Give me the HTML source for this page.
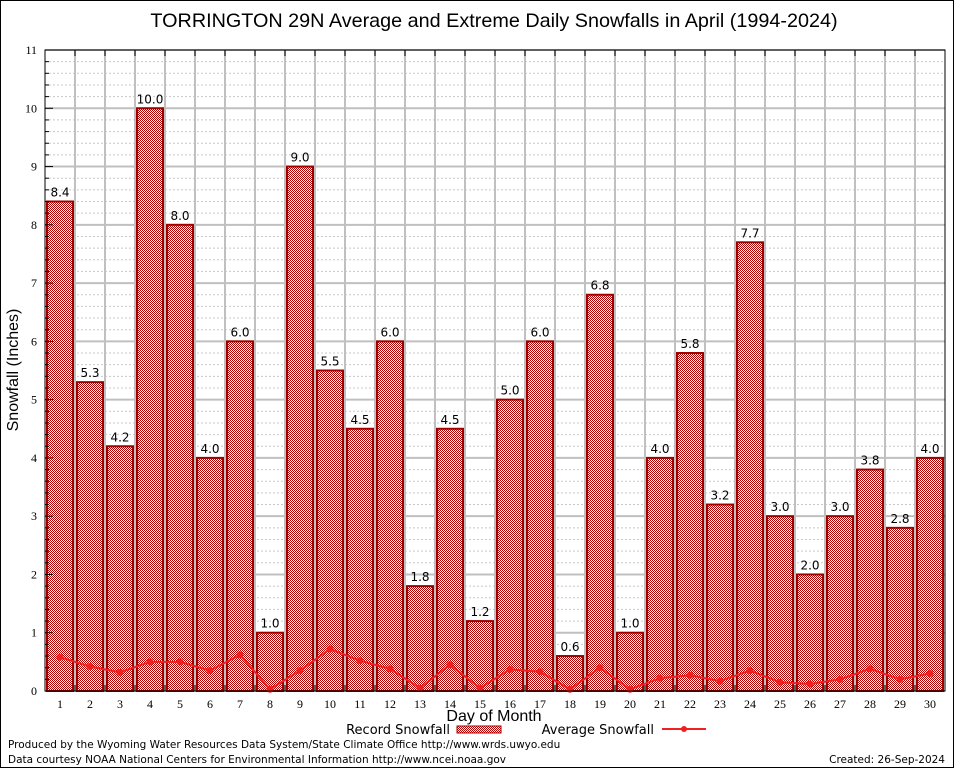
<!DOCTYPE html>
<html><head><meta charset="utf-8"><style>
body{margin:0;background:#fff}
svg{display:block;font-family:"DejaVu Sans","Liberation Sans",sans-serif}
</style></head><body>
<svg id="c" width="954" height="768" xmlns="http://www.w3.org/2000/svg">
<defs>
<pattern id="chk" width="2" height="2" patternUnits="userSpaceOnUse">
<rect width="2" height="2" fill="#fff"/>
<rect width="1" height="1" fill="#b00000"/>
<rect x="1" y="1" width="1" height="1" fill="#b00000"/>
</pattern>
</defs>
<rect x="0.5" y="0.5" width="953" height="767" fill="#fff" stroke="#000"/>
<text x="494" y="27" font-size="19.8" text-anchor="middle" font-family="Liberation Sans, sans-serif">TORRINGTON 29N Average and Extreme Daily Snowfalls in April (1994-2024)</text>
<g id="grid"></g>
<g id="bars"></g>
<g id="avg"></g>
<rect x="45" y="50" width="900" height="641" fill="none" stroke="#000"/>
<g id="axes"></g>
<text x="18" y="370" font-size="16" text-anchor="middle" transform="rotate(-90 18 370)" font-family="Liberation Sans, sans-serif">Snowfall (Inches)</text>
<text x="494" y="721" font-size="16" text-anchor="middle" font-family="Liberation Sans, sans-serif">Day of Month</text>
<g>
<text x="450" y="734" font-size="13" text-anchor="end">Record Snowfall</text>
<rect x="457" y="726" width="44" height="7" fill="url(#chk)" stroke="#a00000"/>
</g>
<g>
<text x="654" y="734" font-size="13" text-anchor="end">Average Snowfall</text>
<line x1="662" y1="729" x2="706" y2="729" stroke="#f02020" stroke-width="2"/>
<circle cx="684" cy="729" r="3" fill="#f02020"/>
</g>
<text x="8" y="748" font-size="10.5">Produced by the Wyoming Water Resources Data System/State Climate Office http://www.wrds.uwyo.edu</text>
<text x="8" y="763" font-size="10.5">Data courtesy NOAA National Centers for Environmental Information http://www.ncei.noaa.gov</text>
<text x="945" y="763" font-size="10.5" text-anchor="end">Created:  26-Sep-2024</text>
</svg>
<script>
const days=[1,2,3,4,5,6,7,8,9,10,11,12,13,14,15,16,17,18,19,20,21,22,23,24,25,26,27,28,29,30];
const recordValues=[8.4,5.3,4.2,10.0,8.0,4.0,6.0,1.0,9.0,5.5,4.5,6.0,1.8,4.5,1.2,5.0,6.0,0.6,6.8,1.0,4.0,5.8,3.2,7.7,3.0,2.0,3.0,3.8,2.8,4.0];
const avgValues=[0.58,0.42,0.32,0.5,0.5,0.35,0.62,0.03,0.35,0.72,0.52,0.38,0.05,0.45,0.05,0.37,0.33,0.03,0.4,0.03,0.22,0.27,0.17,0.35,0.15,0.12,0.2,0.38,0.2,0.3];
const yTicks=[0,1,2,3,4,5,6,7,8,9,10,11];
const NS="http://www.w3.org/2000/svg";
const X0=45,X1=945,Y0=691,Y1=50,YMAX=11;
const xs=d=>60+30*(d-1);
const ys=v=>Y0-(v/YMAX)*(Y0-Y1);
function mk(t,a,p){const e=document.createElementNS(NS,t);for(const k in a)e.setAttribute(k,a[k]);p.appendChild(e);return e;}
const grid=document.getElementById('grid'),bars=document.getElementById('bars'),avg=document.getElementById('avg'),axes=document.getElementById('axes');
for(let i=0;i<=YMAX*5;i++){const v=i/5;const y=ys(v);
 if(i%5===0){const l=mk('line',{x1:X0,x2:X1,y1:y,y2:y,stroke:'#c0c0c0','stroke-width':2},grid);
 
 }
 else{const l=mk('line',{x1:X0,x2:X1,y1:y,y2:y,stroke:'#c8c8c8','stroke-dasharray':'2,2','stroke-width':1},grid);
 
 
 const t=mk('line',{x1:X0,x2:X0+4,y1:y,y2:y,stroke:'#000'},axes);
 
 }
}
for(let d=1;d<days.length;d++){const x=xs(d)+15;
 const l=mk('line',{x1:x,x2:x,y1:Y1,y2:Y0,stroke:'#c0c0c0','stroke-width':2},grid);
 
 
 const t1=mk('line',{x1:x,x2:x,y1:Y1,y2:Y1+6,stroke:'#000'},axes);
 
 
 const t2=mk('line',{x1:x,x2:x,y1:Y0-6,y2:Y0,stroke:'#000'},axes);
 
 }
yTicks.forEach(v=>{const y=ys(v);
 const t=mk('line',{x1:X0,x2:X0+8,y1:y,y2:y,stroke:'#000'},axes);
 
 
 const tx=mk('text',{x:X0-8,y:y+4,'font-size':12,'text-anchor':'end','font-family':'Liberation Serif, serif'},axes);
 tx.textContent=v;
 
 });
days.forEach((d,i)=>{const x=xs(d),v=recordValues[i],y=ys(v);
 const r=mk('rect',{x:x-13,y:y,width:26,height:Y0-y,fill:'url(#chk)',stroke:'#a00000','stroke-width':2},bars);
 
 
 const t=mk('text',{x:x,y:y-5,'font-size':12,'text-anchor':'middle'},bars);
 t.textContent=v.toFixed(1);
 
 
 const xl=mk('text',{x:x,y:Y0+17,'font-size':12,'text-anchor':'middle','font-family':'Liberation Serif, serif'},axes);
 xl.textContent=d;
 
 });
const pl=mk('polyline',{points:days.map((d,i)=>xs(d)+','+ys(avgValues[i])).join(' '),fill:'none',stroke:'#f02020','stroke-width':2},avg);


days.forEach((d,i)=>{const c=mk('circle',{cx:xs(d),cy:ys(avgValues[i]),r:3.5,fill:'#f02020'},avg);
 
 });
</script>
</body></html>
